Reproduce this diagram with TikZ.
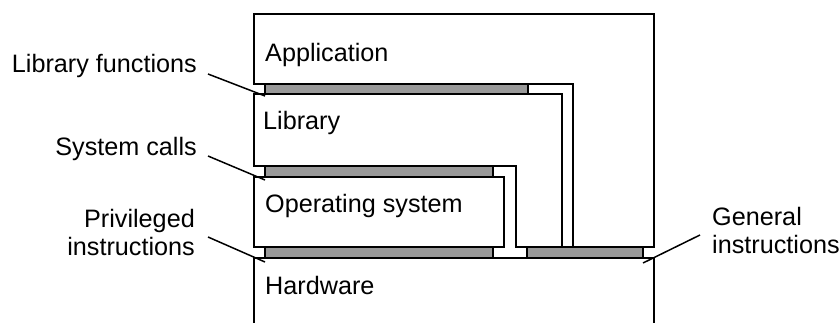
\documentclass[tikz,border=0pt]{standalone}
\usepackage{fontspec}
\setmainfont{Liberation Sans}
\begin{document}
\begin{tikzpicture}[x=1pt,y=-1pt,
  box/.style={draw=black,line width=1.8pt,line join=miter},
  band/.style={draw=black,line width=1.5pt,fill=black!40,inner sep=0pt,outer sep=0pt,anchor=north west},
  lbl/.style={inner sep=0pt,font=\fontsize{25.2}{29}\selectfont},
  leader/.style={draw=black,line width=1.5pt}]
\useasboundingbox (0,0) rectangle (840,323);
% hardware
\draw[box] (254,323) -- (254,258) -- (654,258) -- (654,323);
% operating system
\draw[box] (254,177) rectangle (504,247);
% library
\draw[box] (254,94) -- (562,94) -- (562,247) -- (516,247) -- (516,166) -- (254,166) -- cycle;
% application
\draw[box] (254,84) -- (254,14) -- (654,14) -- (654,247) -- (573,247) -- (573,84) -- cycle;
% interface bands
\node[band,minimum width=263pt,minimum height=10pt] (lf) at (265,84) {};
\node[band,minimum width=228pt,minimum height=11pt] (sc) at (265,166) {};
\node[band,minimum width=228pt,minimum height=11pt] (pi) at (265,247) {};
\node[band,minimum width=116pt,minimum height=11pt] (gi) at (527,247) {};
% box texts
\node[lbl,anchor=base west] (app) at (265,62) {Application};
\node[lbl,anchor=base west] (lib) at (263,130) {Library};
\node[lbl,anchor=base west] (os) at (265,212) {Operating system};
\node[lbl,anchor=base west] (hw) at (265,294) {Hardware};
% labels
\node[lbl,anchor=base east] (lfl) at (197,73) {Library functions};
\node[lbl,anchor=base east] (scl) at (197,156) {System calls};
\node[lbl,anchor=base east] (pil1) at (195,227) {Privileged};
\node[lbl,anchor=base east] (pil2) at (195,255) {instructions};
\node[lbl,anchor=base west] (gil1) at (712,225) {General};
\node[lbl,anchor=base west] (gil2) at (712,253) {instructions};
% leaders
\coordinate (lfs) at (208,74);
\coordinate (scs) at (208,156);
\coordinate (pis) at (208,237);
\coordinate (gis) at (700,235);
\draw[leader] (lfs) -- ([yshift=-2pt]lf.south west);
\draw[leader] (scs) -- ([yshift=-3pt]sc.south west);
\draw[leader] (pis) -- ([yshift=-4pt]pi.south west);
\draw[leader] (gis) -- ([yshift=-5pt]gi.south east);
\end{tikzpicture}
\end{document}
